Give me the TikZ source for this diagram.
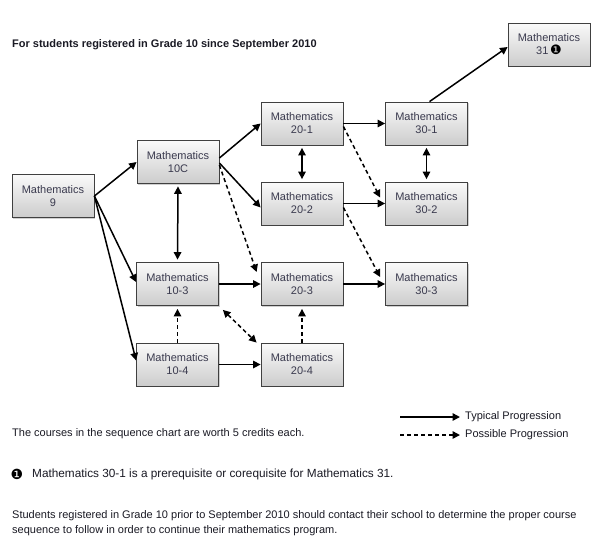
\documentclass[tikz,border=0pt]{standalone}
\usepackage{fontspec}
\setmainfont{Liberation Sans}
\newfontfamily\dejavu{DejaVu Sans}
\usetikzlibrary{arrows.meta,shadows}
\definecolor{boxtext}{HTML}{3A3A4E}
\definecolor{bodytext}{HTML}{1A1A24}
\begin{document}
\begin{tikzpicture}[x=1pt,y=-1pt,
  box/.style={draw=black!75, line width=0.8pt, top color=black!2, bottom color=black!20,
    minimum width=82pt, minimum height=43pt, inner sep=0pt, align=center, text=boxtext,
    font=\fontsize{11}{13}\selectfont,
    drop shadow={shadow xshift=1.2pt, shadow yshift=-1.2pt, opacity=0.3, fill=black!60}},
  arr/.style={line width=1.5pt, -{Triangle[length=7.5pt,width=7.5pt]}},
  darr/.style={line width=1.5pt, {Triangle[length=7.5pt,width=7.5pt]}-{Triangle[length=7.5pt,width=7.5pt]}, shorten <=2.5pt, shorten >=2.5pt},
  dsh/.style={dash pattern=on 4pt off 3pt},
  txt/.style={anchor=west, inner sep=0pt, text=bodytext, font=\fontsize{11}{15}\selectfont}]
\useasboundingbox[fill=white] (0,0) rectangle (600,542);

\node[txt, font=\fontsize{11}{13}\selectfont\bfseries] (title) at (12,45) {For students registered in Grade 10 since September 2010};

\node[box] (m9) at (53,196) {Mathematics\\9};
\node[box] (m10c) at (178,162) {Mathematics\\10C};
\node[box] (m201) at (302,123.5) {Mathematics\\20-1};
\node[box] (m202) at (302,203.5) {Mathematics\\20-2};
\node[box] (m301) at (426.5,123.5) {Mathematics\\30-1};
\node[box] (m302) at (426.5,203.5) {Mathematics\\30-2};
\node[box] (m303) at (426.5,284) {Mathematics\\30-3};
\node[box] (m103) at (177.5,284) {Mathematics\\10-3};
\node[box] (m104) at (177.5,364.5) {Mathematics\\10-4};
\node[box] (m203) at (302,284) {Mathematics\\20-3};
\node[box] (m204) at (302,364.5) {Mathematics\\20-4};
\node[box] (m31) at (549,44.5) {Mathematics\\31\,{\dejavu\fontsize{13}{13}\selectfont\color{black}❶}};

\draw[arr] (m9.east) -- (m10c.west);
\draw[arr] (m9.east) -- ([yshift=2pt]m103.west);
\draw[arr] (m9.east) -- ([yshift=4pt]m104.west);
\draw[arr] ([yshift=4pt]m10c.east) -- (m201.west);
\draw[arr] ([yshift=-1pt]m10c.east) -- ([yshift=-4pt]m202.west);
\draw[arr,dsh] ([yshift=-3pt]m10c.east) -- ([shift={(-4pt,12pt)}]m203.west);
\draw[darr] (m10c.south) -- (m103.north);
\draw[arr] (m201.east) -- (m301.west);
\draw[arr] (m202.east) -- (m302.west);
\draw[arr] (m203.east) -- (m303.west);
\draw[arr] (m103.east) -- (m203.west);
\draw[arr] (m104.east) -- (m204.west);
\draw[darr] (m201.south) -- (m202.north);
\draw[darr] (m301.south) -- (m302.north);
\draw[arr,dsh] ([yshift=-3pt]m201.east) -- ([shift={(-5pt,6pt)}]m302.west);
\draw[arr,dsh] ([yshift=-4pt]m202.east) -- ([shift={(-5pt,7pt)}]m303.west);
\draw[arr,dsh,shorten >=3pt] (m104.north) -- (m103.south);
\draw[arr,dsh,shorten >=3pt] (m204.north) -- (m203.south);
\draw[darr,dsh,shorten <=0pt,shorten >=0pt] ([shift={(4pt,-4pt)}]m103.south east) -- ([xshift=-4pt]m204.north west);
\draw[arr] ([xshift=3pt]m301.north) -- ([yshift=-2.5pt]m31.west);

% legend
\coordinate (l1a) at (400,417);
\coordinate (l2a) at (400,435);
\node[txt] (l1t) at (465,417) {Typical Progression};
\node[txt] (l2t) at (465,435) {Possible Progression};
\draw[arr] (l1a) -- ([xshift=-5pt]l1t.west);
\draw[arr,dsh] (l2a) -- ([xshift=-5pt]l2t.west);

\node[txt] (credits) at (12,434) {The courses in the sequence chart are worth 5 credits each.};
\node[inner sep=0pt, font=\dejavu\fontsize{14}{14}\selectfont] (fnmark) at (17,474) {❶};
\node[txt, font=\fontsize{11.8}{14}\selectfont] (fn) at (32,474) {Mathematics 30-1 is a prerequisite or corequisite for Mathematics 31.};
\node[txt, anchor=north west, align=left] (note) at (12,510) {Students registered in Grade 10 prior to September 2010 should contact their school to determine the proper course\\sequence to follow in order to continue their mathematics program.};
\end{tikzpicture}
\end{document}
